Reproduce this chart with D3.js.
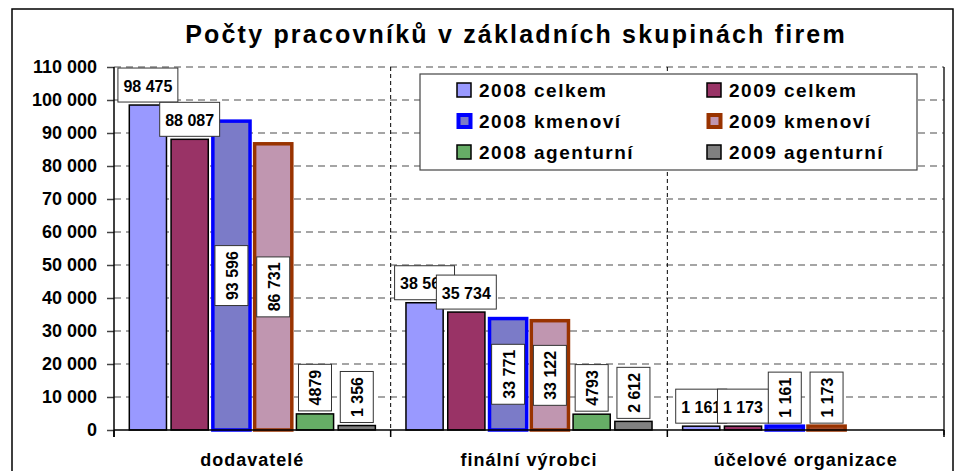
<!DOCTYPE html>
<html>
<head>
<meta charset="utf-8">
<script src="https://cdn.jsdelivr.net/npm/d3@7"></script>
<style>
  body { margin: 0; background: #fff; }
  svg { display: block; font-family: Arial, "Liberation Sans", sans-serif; font-weight: bold; }
</style>
</head>
<body>
<div id="chart"></div>
<script>
// data
const categories = ["dodavatelé", "finální výrobci", "účelové organizace"];
const seriesNames = ["2008 celkem", "2009 celkem", "2008 kmenoví", "2009 kmenoví", "2008 agenturní", "2009 agenturní"];
const celkem2008 = [98475, 38564, 1161];
const celkem2009 = [88087, 35734, 1173];
const kmenovi2008 = [93596, 33771, 1161];
const kmenovi2009 = [86731, 33122, 1173];
const agenturni2008 = [4879, 4793, null];
const agenturni2009 = [1356, 2612, null];
const yTicks = [0, 10000, 20000, 30000, 40000, 50000, 60000, 70000, 80000, 90000, 100000, 110000];
const title = "Počty pracovníků v základních skupinách firem";

const seriesValues = [celkem2008, celkem2009, kmenovi2008, kmenovi2009, agenturni2008, agenturni2009];

// look of each series
const fills   = ["#9999ff", "#993366", "#7b7bc8", "#c096b0", "#66ad66", "#808080"];
const strokes = ["#000", "#000", "#0000ff", "#993300", "#000", "#000"];
const strokeW = [1.5, 1.5, 3.5, 3.5, 1.5, 1.5];
const vertical = [false, false, true, true, true, true];

const width = 960, height = 471;
const margin = {top: 67, right: 16, bottom: 41, left: 114};
const innerW = width - margin.left - margin.right;   // 830
const innerH = height - margin.top - margin.bottom;  // 363

const spaceFmt = d3.formatLocale({decimal: ",", thousands: " ", grouping: [3], currency: ["", ""]});
const grp = spaceFmt.format(",d");
const labelFmt = [grp, grp, grp, grp, d3.format("d"), grp];

const svg = d3.select("#chart").append("svg")
  .attr("width", width)
  .attr("height", height);

// outer frame of the chart
svg.append("rect")
  .attr("x", 12).attr("y", 9)
  .attr("width", 941).attr("height", 490)
  .attr("fill", "none").attr("stroke", "#000").attr("stroke-width", 1.5);

svg.append("text")
  .attr("x", 516).attr("y", 43)
  .attr("text-anchor", "middle")
  .style("font-size", "25px")
  .style("letter-spacing", "2.2px")
  .text(title);

const g = svg.append("g")
  .attr("transform", "translate(" + margin.left + "," + margin.top + ")");

const x0 = d3.scaleBand().domain(categories).range([0, innerW]).paddingInner(0.094).paddingOuter(0.047);
const x1 = d3.scaleBand().domain(d3.range(seriesNames.length)).range([0, x0.bandwidth()]).paddingInner(0.11).paddingOuter(0.055);
const y = d3.scaleLinear().domain([0, 110000]).range([innerH, 0]);

// horizontal grid
g.append("g").selectAll("line")
  .data(yTicks.filter(d => d > 0))
  .join("line")
    .attr("x1", 0).attr("x2", innerW)
    .attr("y1", d => y(d)).attr("y2", d => y(d))
    .attr("stroke", "#888").attr("stroke-width", 1.5)
    .attr("stroke-dasharray", "7,5");

// category boundaries
const bounds = d3.range(categories.length + 1).map(i => i * x0.step());
g.append("g").selectAll("line")
  .data(bounds.slice(1, -1))
  .join("line")
    .attr("x1", d => d).attr("x2", d => d)
    .attr("y1", 0).attr("y2", innerH)
    .attr("stroke", "#000").attr("stroke-width", 1)
    .attr("stroke-dasharray", "4,3");

// right edge of plot
g.append("line")
  .attr("x1", innerW).attr("x2", innerW)
  .attr("y1", 0).attr("y2", innerH + 5)
  .attr("stroke", "#222").attr("stroke-width", 1.5);

// y axis
const yAxis = d3.axisLeft(y).tickValues(yTicks).tickSize(7).tickSizeOuter(0).tickPadding(10).tickFormat(grp);
const yg = g.append("g").call(yAxis);
yg.select(".domain").remove();
yg.selectAll(".tick line").attr("stroke", "#444").attr("stroke-width", 1.5);
yg.selectAll("text").style("font-size", "18px").attr("fill", "#000").style("font-family", "Arial, 'Liberation Sans', sans-serif");
g.append("line")
  .attr("x1", 0).attr("x2", 0).attr("y1", 0).attr("y2", innerH + 7)
  .attr("stroke", "#000").attr("stroke-width", 1.5);

// bars
const groups = g.append("g").selectAll("g")
  .data(categories)
  .join("g")
    .attr("transform", d => "translate(" + x0(d) + ",0)");

groups.selectAll("rect")
  .data((c, ci) => seriesValues.map((vals, si) => ({si: si, v: vals[ci]})).filter(d => d.v != null))
  .join("rect")
    .attr("x", d => x1(d.si))
    .attr("width", x1.bandwidth())
    .attr("y", d => y(d.v))
    .attr("height", d => innerH - y(d.v))
    .attr("fill", d => fills[d.si])
    .attr("stroke", d => strokes[d.si])
    .attr("stroke-width", d => strokeW[d.si]);

// x axis
g.append("line")
  .attr("x1", 0).attr("x2", innerW).attr("y1", innerH).attr("y2", innerH)
  .attr("stroke", "#000").attr("stroke-width", 1.5);
g.append("g").selectAll("line")
  .data(bounds)
  .join("line")
    .attr("x1", d => d).attr("x2", d => d)
    .attr("y1", innerH).attr("y2", innerH + 7)
    .attr("stroke", "#000").attr("stroke-width", 1.5);

const xAxis = d3.axisBottom(x0).tickSize(0).tickPadding(23);
const xg = g.append("g").attr("transform", "translate(0," + innerH + ")").call(xAxis);
xg.select(".domain").remove();
xg.selectAll("text")
  .attr("fill", "#000")
  .style("font-size", "18px")
  .style("letter-spacing", "1px")
  .style("font-family", "Arial, 'Liberation Sans', sans-serif");

// data labels
const boxT = 34, pad = 5.5;
groups.each(function(c, ci) {
  const grpSel = d3.select(this);
  seriesValues.forEach((vals, si) => {
    const v = vals[ci];
    if (v == null) return;
    const cx = x1(si) + x1.bandwidth() / 2;
    const top = y(v);
    const lab = grpSel.append("g");
    const box = lab.append("rect")
      .attr("fill", "#fff").attr("stroke", "#333").attr("stroke-width", 1);
    const t = lab.append("text")
      .attr("text-anchor", "middle")
      .attr("dominant-baseline", "central")
      .style("font-size", "16px")
      .text(labelFmt[si](v));
    const len = t.node().getComputedTextLength() + pad * 2;
    if (!vertical[si]) {
      const cy = top - 3 - boxT / 2;
      box.attr("x", cx - len / 2).attr("y", cy - boxT / 2).attr("width", len).attr("height", boxT);
      t.attr("x", cx).attr("y", cy + 1);
    } else {
      let cy;
      if (innerH - top >= len + 6) cy = (top + innerH) / 2;
      else cy = top - 3 - len / 2;
      box.attr("x", cx - boxT / 2 + 0.5).attr("y", cy - len / 2).attr("width", boxT - 1).attr("height", len);
      t.attr("transform", "translate(" + (cx + 1) + "," + cy + ") rotate(-90)");
    }
  });
});

// legend
const leg = svg.append("g");
leg.append("rect")
  .attr("x", 420).attr("y", 74).attr("width", 497).attr("height", 96)
  .attr("fill", "#fff").attr("stroke", "#444").attr("stroke-width", 1.2);

const legCols = [457, 707], legRows = [90, 121, 152];
seriesNames.forEach((name, si) => {
  const lx = legCols[si % 2], ly = legRows[Math.floor(si / 2)];
  const thick = strokeW[si] > 2;
  const s = thick ? 12 : 14;
  leg.append("rect")
    .attr("x", lx + (14 - s) / 2 + (thick ? 0.5 : 0)).attr("y", ly - s / 2)
    .attr("width", s).attr("height", s)
    .attr("fill", fills[si])
    .attr("stroke", strokes[si])
    .attr("stroke-width", thick ? 4 : 1.5);
  leg.append("text")
    .attr("x", lx + 22).attr("y", ly)
    .attr("dominant-baseline", "central")
    .style("font-size", "19px")
    .style("letter-spacing", "1.5px")
    .text(name);
});
</script>
</body>
</html>
